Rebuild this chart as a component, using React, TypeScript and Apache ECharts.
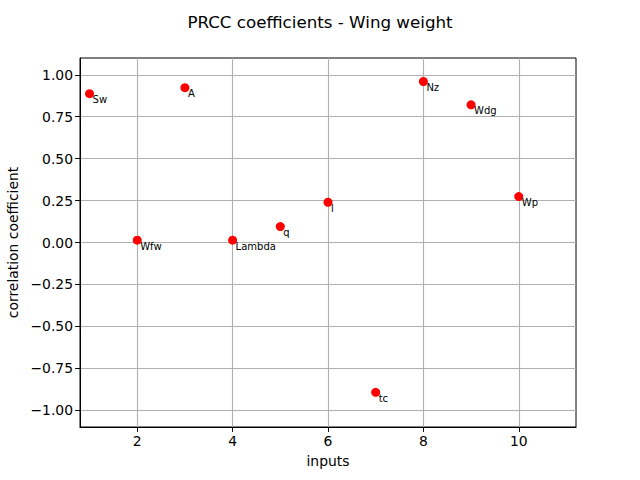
import React, { useEffect, useRef } from "react";
import * as echarts from "echarts";

const inputNames = ["Sw", "Wfw", "A", "Lambda", "q", "l", "tc", "Nz", "Wdg", "Wp"];
const inputIndex = [1, 2, 3, 4, 5, 6, 7, 8, 9, 10];
const prccValues = [0.887, 0.014, 0.923, 0.014, 0.095, 0.24, -0.893, 0.96, 0.821, 0.274];
const xTicks = [2, 4, 6, 8, 10];
const yTicks = [-1, -0.75, -0.5, -0.25, 0, 0.25, 0.5, 0.75, 1];

const FONT = "DejaVu Sans";

export default function App() {
  const ref = useRef<HTMLDivElement>(null);
  useEffect(() => {
    if (!ref.current) return;
    const chart = echarts.init(ref.current, undefined, { renderer: "svg" });
    const data = inputIndex.map((x, i) => ({ name: inputNames[i], value: [x, prccValues[i]] }));
    chart.setOption({
      animation: false,
      backgroundColor: "#ffffff",
      title: {
        text: "PRCC coefficients - Wing weight",
        left: "center",
        top: 8,
        textStyle: { fontFamily: FONT, fontSize: 16.7, fontWeight: "normal", color: "#000" },
      },
      grid: {
        left: 80,
        right: 64,
        top: 58,
        bottom: 53,
        containLabel: false,
        outerBoundsMode: "none",
        show: true,
        borderColor: "#000",
        borderWidth: 1,
        backgroundColor: "transparent",
      },
      xAxis: {
        type: "value",
        min: 0.8,
        max: 11.2,
        name: "inputs",
        nameLocation: "middle",
        nameGap: 27,
        nameTextStyle: { fontFamily: FONT, fontSize: 13.9, color: "#000" },
        axisLine: { show: true, onZero: false, lineStyle: { color: "#000", width: 1 } },
        axisTick: { show: true, length: 4.9, customValues: xTicks, lineStyle: { color: "#000", width: 1 } },
        axisLabel: {
          customValues: xTicks,
          margin: 7,
          fontFamily: FONT,
          fontSize: 13.9,
          color: "#000",
          formatter: (v: number) => String(v),
        },
        splitLine: { show: true, lineStyle: { color: "#b0b0b0", width: 1.1 } },
      },
      yAxis: {
        type: "value",
        min: -1.1,
        max: 1.1,
        name: "correlation coefficient",
        nameLocation: "middle",
        nameGap: 59,
        nameTextStyle: { fontFamily: FONT, fontSize: 13.9, color: "#000" },
        axisLine: { show: true, onZero: false, lineStyle: { color: "#000", width: 1 } },
        axisTick: { show: true, length: 4.9, customValues: yTicks, lineStyle: { color: "#000", width: 1 } },
        axisLabel: {
          customValues: yTicks,
          margin: 7,
          fontFamily: FONT,
          fontSize: 13.9,
          color: "#000",
          formatter: (v: number) => v.toFixed(2).replace("-", "\u2212"),
        },
        splitLine: { show: true, lineStyle: { color: "#b0b0b0", width: 1.1 } },
      },
      series: [
        {
          type: "scatter",
          data,
          symbol: "circle",
          symbolSize: 9,
          itemStyle: { color: "#ff0000", opacity: 1 },
          label: {
            show: true,
            position: "inside",
            align: "left",
            verticalAlign: "middle",
            offset: [3, 6],
            formatter: "{b}",
            fontFamily: FONT,
            fontSize: 10,
            color: "#000",
          },
        },
      ],
    });
    return () => chart.dispose();
  }, []);
  return <div ref={ref} style={{ width: 640, height: 480, position: "absolute", left: 0, top: 0 }} />;
}
